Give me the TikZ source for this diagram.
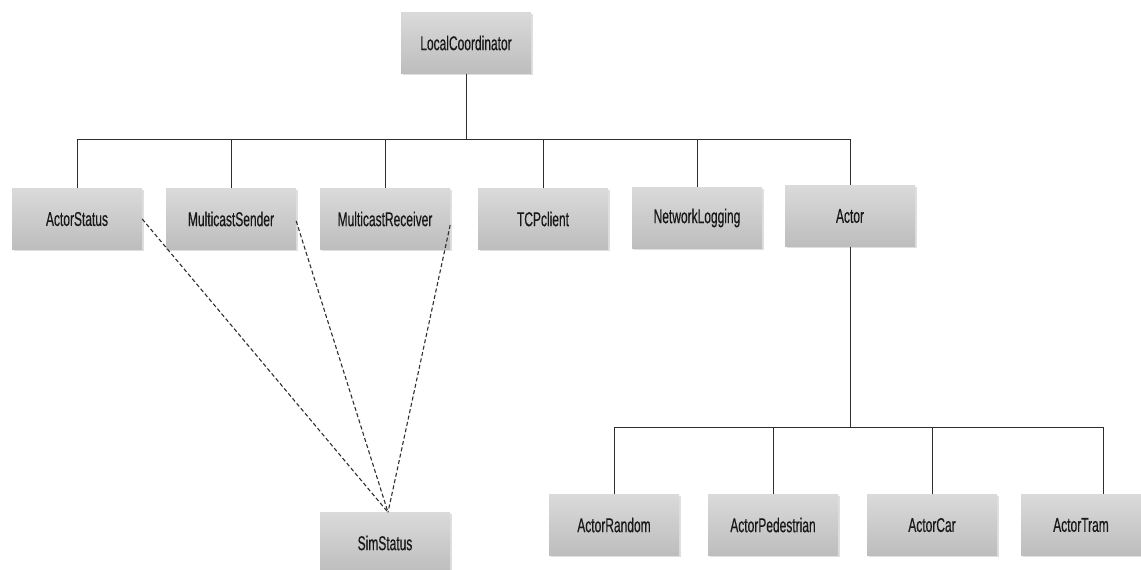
\documentclass[tikz,border=0pt]{standalone}
\usepackage{fontspec}
\newfontfamily\boxfont[FakeStretch=0.6, FakeBold=0.4]{Liberation Sans}
\usetikzlibrary{shadows}

\definecolor{boxtop}{HTML}{DADADA}
\definecolor{boxbot}{HTML}{BDBDBD}
\definecolor{txt}{HTML}{181818}
\definecolor{wire}{HTML}{2E2E2E}

\tikzset{
  cls/.style={rectangle, inner sep=0pt, minimum width=130pt, minimum height=61pt,
    top color=boxtop, bottom color=boxbot, draw=none, text=txt,
    font=\boxfont\fontsize{20}{22}\selectfont,
    drop shadow={shadow xshift=1.5pt, shadow yshift=-1.5pt, opacity=0.25}},
  tree/.style={draw=wire, line width=1pt},
  dep/.style={draw=wire, line width=1.1pt, dash pattern=on 4pt off 2.5pt},
}

\begin{document}
\begin{tikzpicture}[x=1pt, y=-1pt]
  \useasboundingbox (0,0) rectangle (1141,570);

  % classes
  \node[cls] (lc)  at (466,43)  {LocalCoordinator};
  \node[cls] (as)  at (77,219)  {ActorStatus};
  \node[cls] (ms)  at (231,219) {MulticastSender};
  \node[cls] (mr)  at (385,219) {MulticastReceiver};
  \node[cls] (tcp) at (543,219) {TCPclient};
  \node[cls] (nl)  at (697,218) {NetworkLogging};
  \node[cls] (act) at (850,216) {Actor};
  \node[cls] (sim) at (385,543) {SimStatus};
  \node[cls] (ar)  at (614,525) {ActorRandom};
  \node[cls] (ap)  at (773,525) {ActorPedestrian};
  \node[cls] (ac)  at (932,525) {ActorCar};
  \node[cls, minimum width=120pt] (at) at (1081,525) {ActorTram};

  % upper tree
  \coordinate (bus) at (0,139);
  \draw[tree] (lc.south) -- (lc.south |- bus);
  \draw[tree] (as.north) |- (act.north |- bus) -- (act.north);
  \foreach \n in {ms,mr,tcp,nl}
    \draw[tree] (\n.north) -- (\n.north |- bus);

  % lower tree
  \coordinate (bus2) at (0,427);
  \coordinate (tramtop) at ([xshift=22pt]at.north);
  \draw[tree] (act.south) -- (act.south |- bus2);
  \draw[tree] (ar.north) |- (tramtop |- bus2) -- (tramtop);
  \foreach \n in {ap,ac}
    \draw[tree] (\n.north) -- (\n.north |- bus2);

  % dependencies on SimStatus
  \coordinate (simtop) at ([xshift=3pt]sim.north);
  \draw[dep] (as.east) -- (simtop);
  \draw[dep] ([yshift=-2pt]ms.east) -- (simtop);
  \draw[dep] ([yshift=-6pt]mr.east) -- (simtop);
\end{tikzpicture}
\end{document}
